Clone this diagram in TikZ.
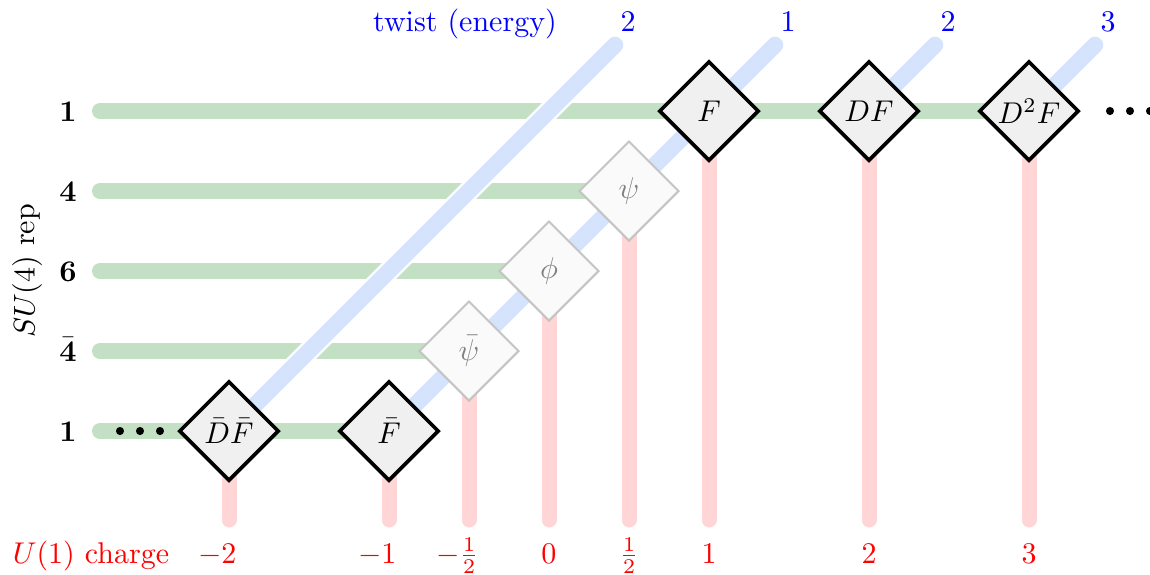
\documentclass[tikz,border=0pt]{standalone}
\usetikzlibrary{shapes.geometric}
\pgfdeclarelayer{bg}
\pgfsetlayers{bg,main}
\definecolor{greenl}{RGB}{195,224,196}
\definecolor{bluel}{RGB}{213,227,252}
\definecolor{redl}{RGB}{255,213,213}
\definecolor{dfill}{RGB}{240,240,240}
\definecolor{gfill}{RGB}{250,250,250}
\definecolor{gbord}{RGB}{196,196,196}
\definecolor{gtext}{RGB}{128,128,128}
\definecolor{tblue}{RGB}{0,0,255}
\definecolor{tred}{RGB}{255,0,0}
\begin{document}
\begin{tikzpicture}[x=0.33333pt,y=-0.33333pt,
  state/.style={diamond, aspect=1, draw=black, line width=1.2pt, fill=dfill,
    minimum width=33.3pt, minimum height=33.3pt, inner sep=0pt},
  ghost/.style={state, draw=gbord, line width=0.7pt, fill=gfill, text=gtext},
  rep/.style={line width=5.33pt, draw=greenl, line cap=round},
  chg/.style={line width=5pt, draw=redl, line cap=round},
  twi/.style={line width=5.5pt, draw=bluel, line cap=round},
  twiw/.style={line width=7pt, draw=white, line cap=round},
  blab/.style={text=tblue, anchor=base},
  rlab/.style={text=tred, anchor=base},
  rowlab/.style={anchor=base}
]
\useasboundingbox (0,0) rectangle (1150,574);

% diamonds
\node[state] (F)    at (709,111) {$F$};
\node[state] (DF)   at (869,111) {$DF$};
\node[state] (DDF)  at (1029,111) {$D^2F$};
\node[ghost] (psi)  at (629,191) {$\psi$};
\node[ghost] (phi)  at (549,271) {$\phi$};
\node[ghost] (psib) at (469,351) {$\bar\psi$};
\node[state] (Fb)   at (389,431) {$\bar F$};
\node[state] (DbFb) at (229,431) {$\bar D\bar F$};

% free ends
\coordinate (s1)  at (100,111);
\coordinate (s4)  at (100,191);
\coordinate (s6)  at (100,271);
\coordinate (s4b) at (100,351);
\coordinate (s1b) at (100,431);
\coordinate (cm2) at (229,520);
\coordinate (cm1) at (389,520);
\coordinate (cmh) at (469,520);
\coordinate (c0)  at (549,520);
\coordinate (ch)  at (629,520);
\coordinate (c1)  at (709,520);
\coordinate (c2)  at (869,520);
\coordinate (c3)  at (1029,520);
\coordinate (tA)  at (615,45);
\coordinate (tB)  at (775,45);
\coordinate (tC)  at (935,45);
\coordinate (tD)  at (1095,45);

\begin{pgfonlayer}{bg}
  % SU(4) rows
  \draw[rep] (s1) -- (DDF.center);
  \draw[rep] (s4) -- (psi.center);
  \draw[rep] (s6) -- (phi.center);
  \draw[rep] (s4b) -- (psib.center);
  \draw[rep] (s1b) -- (Fb.center);
  % twist lines
  \draw[twiw] (DbFb.center) -- (tA);
  \draw[twi]  (DbFb.center) -- (tA);
  \draw[twiw] (Fb.center) -- (tB);
  \draw[twi]  (Fb.center) -- (tB);
  \draw[twiw] (DF.center) -- (tC);
  \draw[twi]  (DF.center) -- (tC);
  \draw[twiw] (DDF.center) -- (tD);
  \draw[twi]  (DDF.center) -- (tD);
  % charge columns
  \draw[chg] (DbFb.center) -- (cm2);
  \draw[chg] (Fb.center) -- (cm1);
  \draw[chg] (psib.center) -- (cmh);
  \draw[chg] (phi.center) -- (c0);
  \draw[chg] (psi.center) -- (ch);
  \draw[chg] (F.center) -- (c1);
  \draw[chg] (DF.center) -- (c2);
  \draw[chg] (DDF.center) -- (c3);
\end{pgfonlayer}

% ellipsis dots
\foreach \x in {120,140,160} \fill (\x,431) circle[radius=1.35pt];
\foreach \x in {1110,1130,1150} \fill (\x,111) circle[radius=1.35pt];

% top labels
\node[blab] (tw) at (465,31) {twist (energy)};
\node[blab] (ta) at (628,31) {$2$};
\node[blab] (tb) at (788,31) {$1$};
\node[blab] (tc) at (948,31) {$2$};
\node[blab] (td) at (1108,31) {$3$};

% row labels
\node[rowlab] (r1)  at (68,121) {$\mathbf{1}$};
\node[rowlab] (r4)  at (68,201) {$\mathbf{4}$};
\node[rowlab] (r6)  at (68,281) {$\mathbf{6}$};
\node[rowlab] (r4b) at (68,361) {$\bar{\mathbf{4}}$};
\node[rowlab] (r1b) at (68,441) {$\mathbf{1}$};
\node[rotate=90] (su) at (27,271) {$SU(4)$ rep};

% bottom labels
\node[rlab] (uc)  at (91,563) {$U(1)$ charge};
\node[rlab] (qm2) at (229,563) {\llap{$-$}$2$};
\node[rlab] (qm1) at (389,563) {\llap{$-$}$1$};
\node[rlab] (qmh) at (469,563) {\llap{$-$}$\frac{1}{2}$};
\node[rlab] (q0)  at (549,563) {$0$};
\node[rlab] (qh)  at (629,563) {$\frac{1}{2}$};
\node[rlab] (q1)  at (709,563) {$1$};
\node[rlab] (q2)  at (869,563) {$2$};
\node[rlab] (q3)  at (1029,563) {$3$};
\end{tikzpicture}
\end{document}
